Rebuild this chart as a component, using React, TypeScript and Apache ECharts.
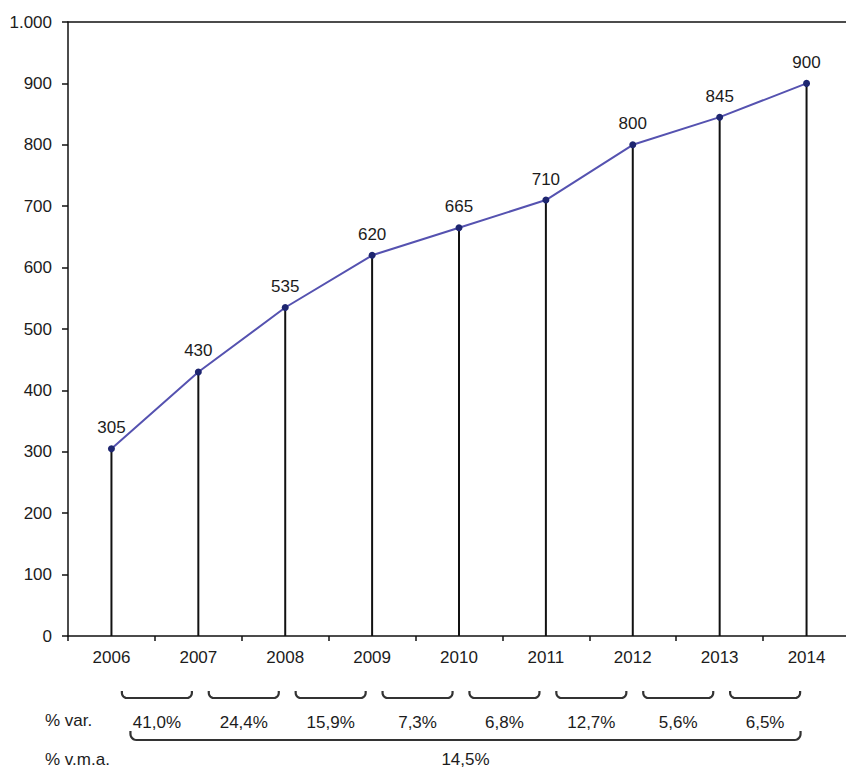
import React, { useEffect, useRef } from "react";
import * as echarts from "echarts";

const years = ["2006", "2007", "2008", "2009", "2010", "2011", "2012", "2013", "2014"];
const values = [305, 430, 535, 620, 665, 710, 800, 845, 900];
const varLabels = ["41,0%", "24,4%", "15,9%", "7,3%", "6,8%", "12,7%", "5,6%", "6,5%"];
const vmaLabel = "14,5%";
const rowVar = "% var.";
const rowVma = "% v.m.a.";

const FONT = '"Liberation Sans", Arial, sans-serif';
const TEXT = "#1c1c1c";
const FS = 17;

function bracketPoints(x1: number, x2: number, yTop: number, yBot: number, r: number) {
  const pts: number[][] = [];
  pts.push([x1, yTop]);
  const cyL = yBot - r;
  for (let k = 0; k <= 6; k++) {
    const a = (Math.PI / 2) * (k / 6);
    pts.push([x1 + r - r * Math.cos(a), cyL + r * Math.sin(a)]);
  }
  for (let k = 0; k <= 6; k++) {
    const a = (Math.PI / 2) * (1 - k / 6);
    pts.push([x2 - r + r * Math.cos(a), cyL + r * Math.sin(a)]);
  }
  pts.push([x2, yTop]);
  return pts;
}

export default function App() {
  const ref = useRef<HTMLDivElement>(null);
  useEffect(() => {
    if (!ref.current) return;
    const chart = echarts.init(ref.current, null, { renderer: "svg" });
    chart.setOption({
      animation: false,
      backgroundColor: "#fff",
      grid: { left: 68, top: 22, right: 0, bottom: 133 },
      xAxis: [
        {
          type: "category",
          data: years,
          boundaryGap: true,
          axisLine: { show: true, lineStyle: { color: "#111", width: 1.5 } },
          axisTick: { show: true, length: 5, lineStyle: { color: "#111", width: 1.5 } },
          axisLabel: { fontSize: FS, color: TEXT, fontFamily: FONT, margin: 13 },
          splitLine: { show: false },
        },
        {
          type: "category",
          data: years,
          position: "top",
          boundaryGap: true,
          axisLine: { show: true, onZero: false, lineStyle: { color: "#111", width: 1.5 } },
          axisTick: { show: false },
          axisLabel: { show: false },
          splitLine: { show: false },
        },
      ],
      yAxis: {
        type: "value",
        min: 0,
        max: 1000,
        interval: 100,
        axisLine: { show: true, lineStyle: { color: "#111", width: 1.5 } },
        axisTick: { show: true, length: 6, lineStyle: { color: "#111", width: 1.5 } },
        axisLabel: {
          fontSize: FS,
          color: TEXT,
          fontFamily: FONT,
          margin: 16,
          formatter: (v: number) => String(v).replace(/\B(?=(\d{3})+(?!\d))/g, "."),
        },
        splitLine: { show: false },
      },
      series: [
        {
          type: "bar",
          data: values,
          barWidth: 2,
          silent: true,
          z: 1,
          itemStyle: { color: "#111" },
        },
        {
          type: "line",
          data: values,
          z: 3,
          symbol: "circle",
          symbolSize: 7,
          lineStyle: { color: "#5552b0", width: 2 },
          itemStyle: { color: "#1e2670" },
          label: {
            show: true,
            position: "top",
            distance: 9,
            fontSize: FS,
            color: TEXT,
            fontFamily: FONT,
          },
        },
      ],
    });

    const centers = years.map((_, i) => chart.convertToPixel({ xAxisIndex: 0 }, i) as number);
    const graphics: any[] = [];
    const strokeStyle = { stroke: "#333", lineWidth: 2.2, fill: null };

    for (let i = 0; i < varLabels.length; i++) {
      const mid = (centers[i] + centers[i + 1]) / 2 + 2;
      graphics.push({
        type: "polyline",
        shape: { points: bracketPoints(mid - 35, mid + 35, 691, 698, 5) },
        style: strokeStyle,
      });
      graphics.push({
        type: "text",
        x: mid,
        y: 722,
        style: {
          text: varLabels[i],
          fontSize: FS,
          fontFamily: FONT,
          fill: TEXT,
          align: "center",
          verticalAlign: "middle",
        },
      });
    }
    const bx1 = centers[0] + 19;
    const bx2 = centers[centers.length - 1] - 6;
    graphics.push({
      type: "polyline",
      shape: { points: bracketPoints(bx1, bx2, 731, 740, 6) },
      style: strokeStyle,
    });
    graphics.push({
      type: "text",
      x: (bx1 + bx2) / 2,
      y: 759,
      style: { text: vmaLabel, fontSize: FS, fontFamily: FONT, fill: TEXT, align: "center", verticalAlign: "middle" },
    });
    graphics.push({
      type: "text",
      x: 45,
      y: 720,
      style: { text: rowVar, fontSize: FS, fontFamily: FONT, fill: TEXT, align: "left", verticalAlign: "middle" },
    });
    graphics.push({
      type: "text",
      x: 45,
      y: 759,
      style: { text: rowVma, fontSize: FS, fontFamily: FONT, fill: TEXT, align: "left", verticalAlign: "middle" },
    });
    chart.setOption({ graphic: graphics });

    return () => chart.dispose();
  }, []);
  return (
    <div style={{ position: "absolute", left: 0, top: 0, width: 846, height: 769, overflow: "hidden", background: "#fff" }}>
      <div ref={ref} style={{ position: "absolute", left: 0, top: 0, width: 850, height: 769 }} />
    </div>
  );
}
